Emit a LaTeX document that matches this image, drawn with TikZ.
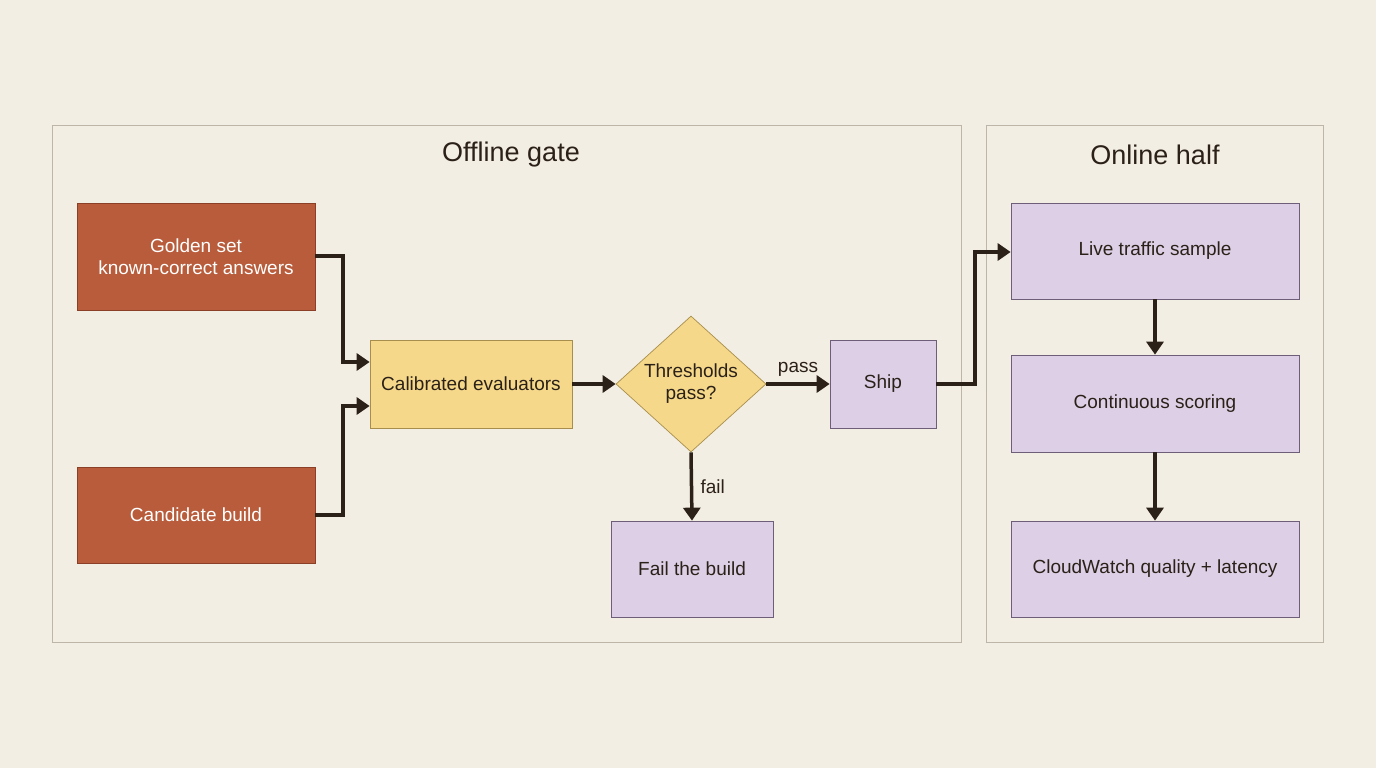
\documentclass[tikz,border=0pt]{standalone}
\usepackage{fontspec}
\setmainfont{Liberation Sans}
\usetikzlibrary{shapes.geometric,arrows.meta}
\definecolor{bg}{HTML}{F3EEE3}
\definecolor{frm}{HTML}{BDB5A8}
\definecolor{org}{HTML}{B85C3C}
\definecolor{orgd}{HTML}{8A3F26}
\definecolor{yel}{HTML}{F5D88A}
\definecolor{yeld}{HTML}{A88E4C}
\definecolor{lav}{HTML}{DCCFE6}
\definecolor{lavd}{HTML}{6E5E7A}
\definecolor{ink}{HTML}{2B2118}
\tikzset{
 x=1pt,y=-1pt,
 frame/.style={draw=frm,line width=0.8pt},
 ttl/.style={font=\fontsize{27}{30}\selectfont,text=ink},
 obox/.style={draw=orgd,fill=org,line width=0.7pt,text=white,font=\fontsize{19}{22}\selectfont,align=center},
 ybox/.style={draw=yeld,fill=yel,line width=0.7pt,text=ink,font=\fontsize{19}{22}\selectfont,align=center},
 lbox/.style={draw=lavd,fill=lav,line width=0.7pt,text=ink,font=\fontsize{19}{22}\selectfont,align=center},
 arr/.style={draw=ink,line width=3.5pt,-{Triangle[length=13pt,width=17pt]}},
 lbl/.style={font=\fontsize{19}{22}\selectfont,text=ink}
}
\begin{document}
\begin{tikzpicture}
\fill[bg] (0,0) rectangle (1376,768);
\useasboundingbox (0,0) rectangle (1376,768);
\draw[frame] (52,125) rectangle (961,642);
\draw[frame] (986,125) rectangle (1323,642);
\node[ttl] (t1) at (511,155) {Offline gate};
\node[ttl] (t2) at (1155,155) {Online half};
\node[obox,minimum width=238,minimum height=107] (gold) at (196,256.5) {Golden set\\known-correct answers};
\node[obox,minimum width=238,minimum height=96] (cand) at (196,515) {Candidate build};
\node[ybox,minimum width=202,minimum height=88] (cal) at (471,384) {Calibrated evaluators};
\node[diamond,draw=yeld,fill=yel,line width=0.7pt,minimum width=150,minimum height=136,inner sep=0pt,align=center,font=\fontsize{19}{22}\selectfont,text=ink] (dia) at (691,384) {Thresholds\\pass?};
\node[lbox,minimum width=106,minimum height=88] (ship) at (883,384) {Ship};
\node[lbox,minimum width=162,minimum height=96] (fail) at (692,569) {Fail the build};
\node[lbox,minimum width=288,minimum height=96] (live) at (1155,251) {Live traffic sample};
\node[lbox,minimum width=288,minimum height=97] (cont) at (1155,403.5) {Continuous scoring};
\node[lbox,minimum width=288,minimum height=96] (cw) at (1155,569) {CloudWatch quality + latency};
\coordinate (g1) at (343,256);
\coordinate (c1) at (343,515);
\coordinate (s1) at (975,384);
\draw[arr] (gold.east |- g1) -- (g1) -- (343,362) -- (cal.west |- 0,362);
\draw[arr] (cand.east |- c1) -- (c1) -- (343,406) -- (cal.west |- 0,406);
\draw[arr] (cal) -- (dia);
\draw[arr] (dia) -- node[lbl,above,yshift=2pt]{pass} (ship);
\draw[arr] (dia.south) -- node[lbl,right,xshift=4pt]{fail} (fail.north);
\draw[arr] (ship.east) -- (s1) -- (975,252) -- (live.west |- 0,252);
\draw[arr] (live) -- (cont);
\draw[arr] (cont) -- (cw);
\end{tikzpicture}
\end{document}
